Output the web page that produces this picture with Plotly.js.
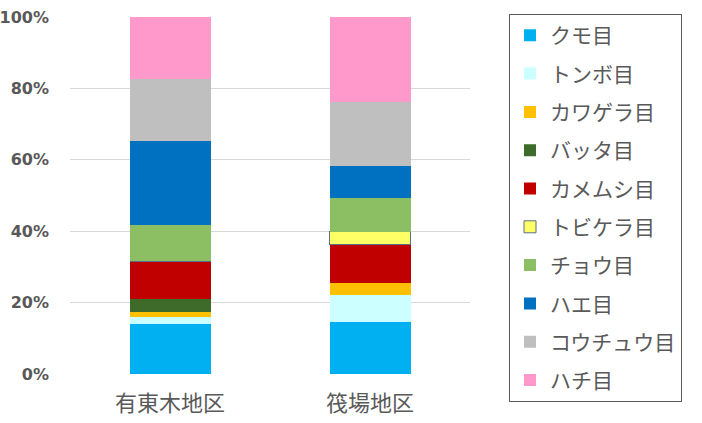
<!DOCTYPE html>
<html><head><meta charset="utf-8">
<script src="https://cdn.plot.ly/plotly-3.0.1.min.js"></script>
<style>html,body{margin:0;padding:0;background:#fff;}</style>
</head><body>
<div id="chart" style="width:702px;height:423px;"></div>
<script>
const categories = ['有東木地区', '筏場地区'];
const seriesNames = ['クモ目','トンボ目','カワゲラ目','バッタ目','カメムシ目','トビケラ目','チョウ目','ハエ目','コウチュウ目','ハチ目'];
const kumo = [14.0, 14.7];
const tonbo = [2.1, 7.3];
const kawagera = [1.2, 3.6];
const batta = [3.7, 0];
const kamemushi = [10.6, 10.7];
const tobikera = [0, 3.6];
const chou = [10.1, 9.4];
const hae = [23.7, 9.0];
const kouchuu = [17.1, 18.0];
const hachi = [17.5, 23.7];
const seriesValues = [kumo, tonbo, kawagera, batta, kamemushi, tobikera, chou, hae, kouchuu, hachi];
const colors = ['#00B0F0','#CCFFFF','#FFC000','#3F6B2A','#C00000','#FFFF66','#8CBF64','#0070C0','#BFBFBF','#FF99CC'];

const traces = seriesNames.map((n, i) => ({
  type: 'bar',
  name: n,
  x: categories,
  y: seriesValues[i],
  legendgroup: 'g' + i,
  marker: {
    color: colors[i],
    line: i === 5 ? {color: '#5A6E8A', width: 1} : {width: 0}
  },
  hoverinfo: 'name+y'
}));

const layout = {
  barmode: 'stack',
  barnorm: 'percent',
  bargap: 0.595,
  width: 702, height: 423,
  margin: {l: 70, r: 232, t: 17, b: 49},
  paper_bgcolor: '#fff', plot_bgcolor: '#fff',
  font: {family: '"Noto Sans CJK JP", "Noto Sans", sans-serif', color: '#595959'},
  xaxis: {
    tickfont: {size: 22, color: '#595959'},
    showline: false, showgrid: false, zeroline: false, ticks: '',
    ticklabelstandoff: 14
  },
  yaxis: {
    range: [0, 100], tickvals: [0,20,40,60,80,100], ticktext: ['0%','20%','40%','60%','80%','100%'],
    showgrid: true, gridcolor: '#D9D9D9', gridwidth: 1, zeroline: false, showline: false,
    tickfont: {size: 16, color: '#595959', family: '"DejaVu Sans", sans-serif', weight: 'bold'},
    ticklen: 0, ticks: '', ticklabelstandoff: 20
  },
  showlegend: true,
  legend: {
    x: 1.0975, xanchor: 'left', y: 1.008, yanchor: 'top',
    traceorder: 'grouped', tracegroupgap: 8,
    bordercolor: '#595959', borderwidth: 1,
    font: {size: 21, color: '#595959'},
    itemwidth: 30, maxheight: 1
  }
};
Plotly.newPlot('chart', traces, layout, {displayModeBar: false, staticPlot: true});
</script>
</body></html>
